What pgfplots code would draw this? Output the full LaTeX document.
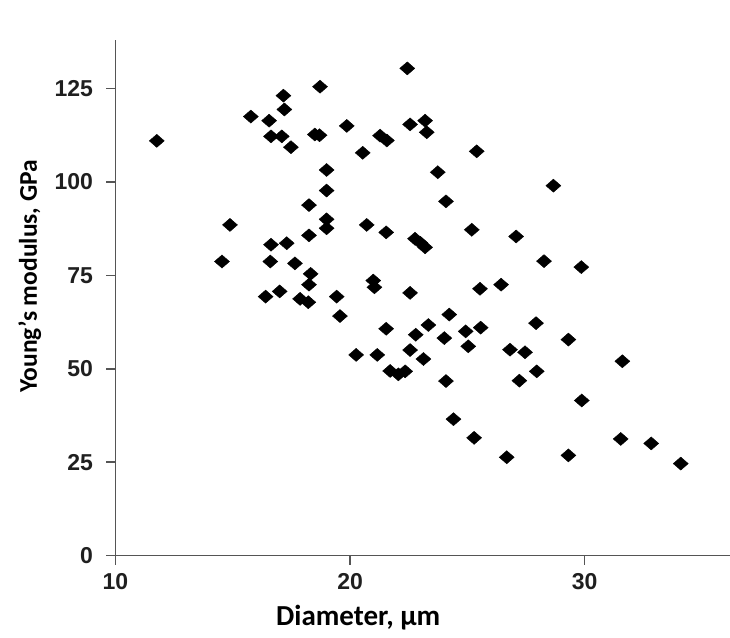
\documentclass[border=0pt]{standalone}
\usepackage{fontspec}
\setmainfont{Carlito}
\newfontfamily\tickfont{Liberation Sans}
\usepackage{pgfplots}
\pgfplotsset{compat=1.18}

% wide, slightly flat diamond like the scanned markers
\pgfdeclareplotmark{flatdiamond}{%
  \pgfpathmoveto{\pgfqpoint{\pgfplotmarksize}{0pt}}%
  \pgfpathlineto{\pgfqpoint{0pt}{0.87\pgfplotmarksize}}%
  \pgfpathlineto{\pgfqpoint{-\pgfplotmarksize}{0pt}}%
  \pgfpathlineto{\pgfqpoint{0pt}{-0.87\pgfplotmarksize}}%
  \pgfpathclose
  \pgfusepathqfillstroke}

\definecolor{axisgray}{RGB}{85,85,85}

\begin{document}
\begin{tikzpicture}
\begin{axis}[
    scale only axis,
    width=614.5pt, height=515.5pt,
    xmin=10, xmax=36.2,
    ymin=0, ymax=138,
    axis x line*=bottom, axis y line*=left,
    axis line style={axisgray, line width=1.8pt},
    xtick={10,20,30}, ytick={0,25,50,75,100,125},
    tick align=outside,
    major tick length=9pt,
    tick style={axisgray, line width=1.6pt},
    /pgf/number format/assume math mode=true,
    ticklabel style={font=\tickfont\bfseries\fontsize{23}{23}\selectfont, text=black!88},
    yticklabel style={xshift=-10pt},
    xticklabel style={yshift=-5pt},
    xlabel={Diameter, μm},
    ylabel={Young’s modulus, GPa},
    xlabel style={font=\bfseries\fontsize{29}{29}\selectfont,
      at={(axis description cs:0.395,-0.135)}, anchor=base},
    ylabel style={font=\bfseries\fontsize{25.5}{25.5}\selectfont,
      at={(axis description cs:-0.128,0.542)}, anchor=base},
    clip=false,
]
\addplot[only marks, mark=flatdiamond, mark size=7.5pt, black] coordinates {
  (11.76,111.0) (14.54,78.7) (14.88,88.5) (15.77,117.5) (16.55,116.4)
  (17.16,123.1) (17.20,119.4) (18.72,125.5) (16.63,112.2) (17.09,112.2)
  (17.48,109.3) (18.50,112.7) (18.70,112.5) (19.86,115.0) (19.00,103.2)
  (19.00,97.7) (18.25,93.8) (19.00,90.0) (19.00,87.6) (22.44,130.4)
  (22.56,115.4) (23.20,116.4) (23.27,113.3) (21.28,112.4) (21.57,111.1)
  (20.54,107.8) (25.40,108.2) (23.74,102.6) (24.09,94.8) (28.67,99.0)
  (20.71,88.5) (21.54,86.5) (25.19,87.2) (18.25,85.7) (16.63,83.2)
  (17.30,83.6) (16.60,78.7) (17.65,78.2) (18.32,75.4) (18.25,72.5)
  (16.40,69.3) (17.00,70.7) (17.87,68.7) (18.22,67.8) (19.43,69.3)
  (19.57,64.1) (22.77,84.8) (23.00,83.7) (23.20,82.5) (27.08,85.4)
  (28.27,78.8) (29.86,77.2) (20.99,73.6) (21.04,71.8) (22.56,70.3)
  (25.54,71.4) (26.44,72.5) (24.23,64.5) (23.34,61.7) (21.54,60.7)
  (22.80,59.1) (24.02,58.2) (24.93,60.0) (25.57,61.0) (27.93,62.2)
  (29.31,57.8) (25.04,56.0) (22.56,55.0) (23.13,52.6) (20.26,53.7)
  (21.16,53.7) (26.82,55.1) (27.46,54.4) (27.96,49.3) (27.22,46.8)
  (21.71,49.4) (22.06,48.5) (22.35,49.3) (24.09,46.7) (29.88,41.5)
  (24.41,36.5) (25.29,31.5) (26.68,26.3) (29.31,26.8) (31.54,31.2)
  (32.84,30.0) (34.10,24.6) (31.61,52.0)
};
\end{axis}
\pgfresetboundingbox
\path[use as bounding box] (-115.5pt,-81.5pt) rectangle (614.5pt,555.5pt);
\end{tikzpicture}
\end{document}
